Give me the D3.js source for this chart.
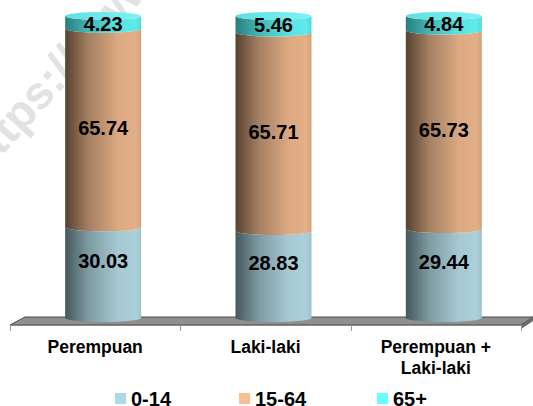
<!DOCTYPE html>
<html><head><meta charset="utf-8">
<script src="https://cdn.jsdelivr.net/npm/d3@7"></script>
<style>body{margin:0;background:#fff}svg{display:block;font-family:"Liberation Sans",Arial,sans-serif}</style>
</head><body>
<svg id="c" width="533" height="406"></svg>
<script>
const categories = [["Perempuan"], ["Laki-laki"], ["Perempuan +", "Laki-laki"]];
const seriesNames = ["0-14", "15-64", "65+"];
const v014 = [30.03, 28.83, 29.44];
const v1564 = [65.74, 65.71, 65.73];
const v65 = [4.23, 5.46, 4.84];
const labels014 = ["30.03", "28.83", "29.44"];
const labels1564 = ["65.74", "65.71", "65.73"];
const labels65 = ["4.23", "5.46", "4.84"];

const svg = d3.select("#c");
const defs = svg.append("defs");

const colors = [
  {stops:["#45575c","#7d9aa1","#a6c9d2","#abd0d9","#9fc2ca"], legend:"#add8e6"},
  {stops:["#574131","#a37f62","#dca982","#e3af87","#d3a27c"], legend:"#f9be8f"},
  {stops:["#2a7d7d","#44b5b5","#5ae2e2","#60eaea","#55d6d6"], legend:"#66ffff"}
];
colors.forEach((c,i)=>{
  const g = defs.append("linearGradient").attr("id","g"+i).attr("x1","0").attr("x2","1").attr("y1","0").attr("y2","0");
  [0,0.3,0.7,0.93,1].forEach((o,k)=>g.append("stop").attr("offset",o).attr("stop-color",c.stops[k]));
});
const capG = defs.append("linearGradient").attr("id","cap").attr("x1","0").attr("x2","1");
capG.append("stop").attr("offset",0).attr("stop-color","#5fe0e0");
capG.append("stop").attr("offset",1).attr("stop-color","#7ef3f3");

// watermark
svg.append("text").attr("transform","translate(-18,178) rotate(-48)")
  .attr("font-size",46).attr("font-weight","bold").attr("fill","#e2e2e2")
  .text("https://www.bps.go.id");

// axis area
const x = d3.scaleBand().domain(d3.range(3)).range([10,521]);
const y = d3.scaleLinear().domain([0,100]).range([318,16]);
const depthX = 8, barW = 76, ry = 4;

// floor
svg.append("path").attr("d","M10,325 L25,317 L533,317 L521,325 Z").attr("fill","#8f8f8f").attr("stroke","#4a4a4a").attr("stroke-width",1);
svg.append("path").attr("d","M521,325 L533,317 L533,321 L521,329 Z").attr("fill","#6a6a6a");
// ticks
svg.append("line").attr("x1",10).attr("x2",521).attr("y1",325.5).attr("y2",325.5).attr("stroke","#888");
[0,1,2,3].forEach(i=>{
  const xx = i<3 ? x(i) : x.range()[1];
  svg.append("line").attr("x1",Math.round(xx)+0.5).attr("x2",Math.round(xx)+0.5).attr("y1",325).attr("y2",331).attr("stroke","#999");
});

const series = [v014, v1564, v65];
const lbls = [labels014, labels1564, labels65];
const dyLab = [-12, 0, 1];
categories.forEach((cat,i)=>{
  const cx = x(i) + x.bandwidth()/2 + depthX;
  const l = cx - barW/2, r = cx + barW/2, rx = barW/2;
  let cum = 0;
  series.forEach((s,k)=>{
    const y0 = y(cum), y1 = y(cum + s[i]);
    const p = `M${l},${y1} L${l},${y0} A${rx},${ry} 0 0 0 ${r},${y0} L${r},${y1} A${rx},${ry} 0 0 1 ${l},${y1} Z`;
    svg.append("path").attr("d",p).attr("fill",`url(#g${k})`);
    cum += s[i];
  });
  // top cap
  svg.append("ellipse").attr("cx",cx).attr("cy",y(cum)).attr("rx",rx).attr("ry",ry).attr("fill","url(#cap)");
  // labels
  cum = 0;
  series.forEach((s,k)=>{
    const mid = (y(cum) + y(cum+s[i]))/2 + dyLab[k];
    svg.append("text").attr("x",cx).attr("y",mid).attr("dy","0.36em").attr("text-anchor","middle")
      .attr("font-size",20).attr("font-weight","bold").attr("fill","#000").text(lbls[k][i]);
    cum += s[i];
  });
  // category labels
  const t = svg.append("text").attr("x",x(i)+x.bandwidth()/2).attr("y",353).attr("text-anchor","middle")
    .attr("font-size",17.5).attr("font-weight","bold").attr("fill","#000");
  cat.forEach((line,j)=>t.append("tspan").attr("x",x(i)+x.bandwidth()/2).attr("dy",j?21:0).text(line));
});

// legend
const legX = [115, 239, 377];
seriesNames.forEach((n,k)=>{
  svg.append("rect").attr("x",legX[k]).attr("y",393).attr("width",11).attr("height",11).attr("fill",colors[k].legend);
  svg.append("text").attr("x",legX[k]+16).attr("y",406).attr("font-size",20).attr("font-weight","bold").attr("fill","#000").text(n);
});
</script>
</body></html>
